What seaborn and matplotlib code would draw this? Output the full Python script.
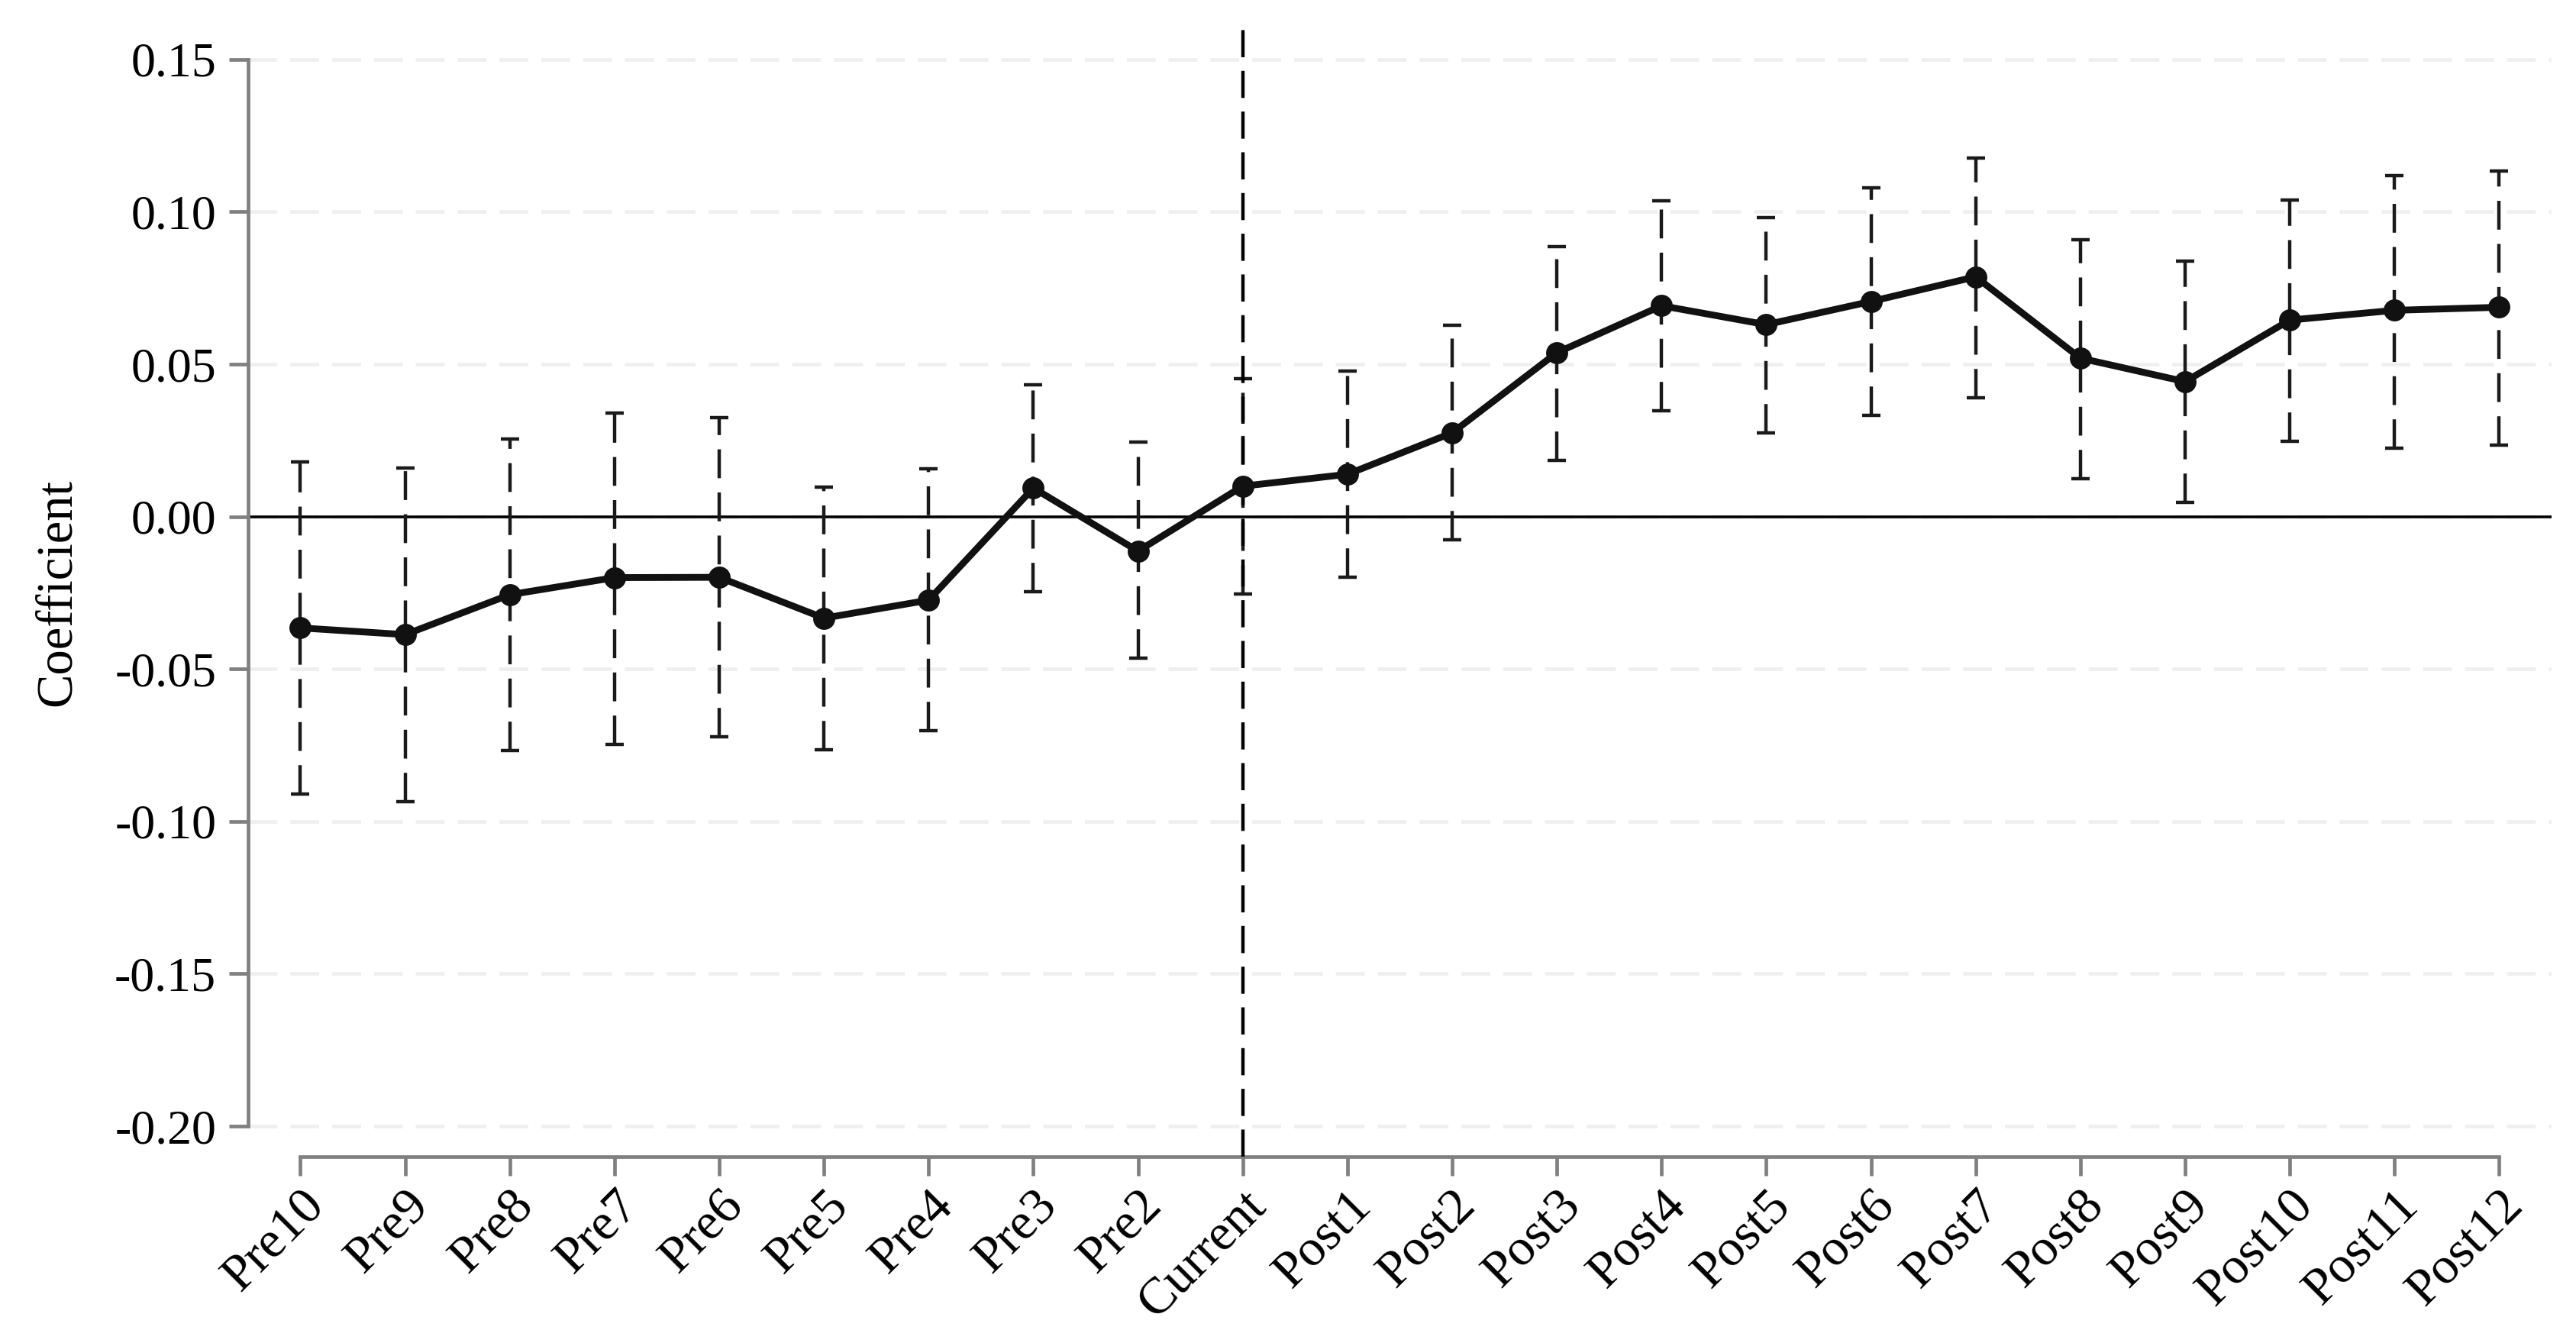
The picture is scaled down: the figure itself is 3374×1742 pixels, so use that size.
import numpy as np
import pandas as pd
import matplotlib
matplotlib.use("Agg")
import matplotlib.pyplot as plt
import seaborn as sns

# ---------------- data ----------------
periods = ["Pre10", "Pre9", "Pre8", "Pre7", "Pre6", "Pre5", "Pre4", "Pre3", "Pre2",
           "Current", "Post1", "Post2", "Post3", "Post4", "Post5", "Post6", "Post7",
           "Post8", "Post9", "Post10", "Post11", "Post12"]
coef = [-0.0365, -0.0387, -0.0256, -0.0200, -0.0199, -0.0333, -0.0274, 0.0094, -0.0113,
        0.0100, 0.0139, 0.0275, 0.0538, 0.0692, 0.0630, 0.0706, 0.0787,
        0.0520, 0.0443, 0.0645, 0.0677, 0.0687]
ci_high = [0.0180, 0.0159, 0.0254, 0.0341, 0.0326, 0.0098, 0.0157, 0.0432, 0.0244,
           0.0452, 0.0478, 0.0628, 0.0885, 0.1036, 0.0982, 0.1080, 0.1176,
           0.0909, 0.0839, 0.1038, 0.1120, 0.1135]
ci_low = [-0.0910, -0.0935, -0.0767, -0.0748, -0.0722, -0.0764, -0.0703, -0.0246, -0.0465,
          -0.0255, -0.0199, -0.0076, 0.0185, 0.0347, 0.0276, 0.0332, 0.0389,
          0.0124, 0.0046, 0.0247, 0.0224, 0.0234]
yticks = [-0.20, -0.15, -0.10, -0.05, 0.00, 0.05, 0.10, 0.15]
event_period = "Current"
y_label = "Coefficient"

df = pd.DataFrame({"period": periods, "coef": coef, "low": ci_low, "high": ci_high})

# ---------------- style ----------------
sns.set_theme(style="white")
plt.rcParams["font.family"] = ["Liberation Serif", "DejaVu Serif"]
plt.rcParams["axes.unicode_minus"] = False

fig = plt.figure(figsize=(16.87, 8.71), dpi=200)
ax = fig.add_axes([0.0963, 0.1303, 0.8942, 0.8479])

sns.pointplot(data=df, x="period", y="coef", order=periods, color="#111111",
              markers="o", linestyles="-", errorbar=None,
              markersize=8, linewidth=3.2, ax=ax, zorder=5)

xpos = np.arange(len(periods))
c = df["coef"].to_numpy()
eb = ax.errorbar(xpos, c, yerr=[c - df["low"].to_numpy(), df["high"].to_numpy() - c],
                 fmt="none", ecolor="#1a1a1a", elinewidth=1.6, capsize=4.3,
                 capthick=1.6, zorder=3)
eb[2][0].set_linestyle((0, (8.5, 4.2)))

ax.axhline(0, color="black", lw=1.3, zorder=2)
ax.axvline(periods.index(event_period), color="black", lw=1.6,
           ls=(0, (8, 4)), zorder=4)

ax.set_axisbelow(True)
ax.yaxis.grid(True, color="#efefef", linewidth=1.7, linestyle=(0, (8, 3.6)))
ax.xaxis.grid(False)

ax.set_xlim(-0.5, len(periods) - 0.5)
ax.set_ylim(-0.21, 0.16)
ax.set_yticks(yticks)
ax.set_yticklabels([f"{v:.2f}" for v in yticks])
ax.set_xticks(xpos)
ax.set_xticklabels(periods, rotation=45, ha="right", rotation_mode="anchor")

sns.despine(ax=ax)
for side in ["left", "bottom"]:
    ax.spines[side].set_color("#808080")
    ax.spines[side].set_linewidth(1.7)
ax.spines["left"].set_bounds(min(yticks), max(yticks))
ax.spines["bottom"].set_bounds(0, len(periods) - 1)

ax.tick_params(axis="both", which="major", bottom=True, left=True, direction="out",
               length=9, width=1.7, color="#808080", labelsize=23,
               labelcolor="black")
ax.tick_params(axis="y", pad=6)
ax.tick_params(axis="x", pad=3, labelsize=24.5)

ax.set_xlabel("")
ax.set_ylabel(y_label, fontsize=24, color="black", labelpad=16)

fig.savefig("out.png", dpi=200, facecolor="white")
